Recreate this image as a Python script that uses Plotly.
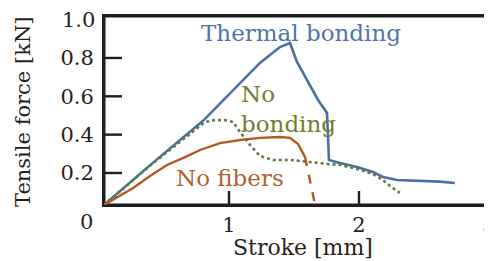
import plotly.graph_objects as go

# Thermal bonding (blue solid)
thermal_x = [0.038, 0.40, 0.80, 1.085, 1.238, 1.392, 1.469, 1.523, 1.60, 1.685, 1.754, 1.762, 1.769,
             1.854, 1.985, 2.108, 2.185, 2.292, 2.40, 2.523, 2.62, 2.738]
thermal_y = [0.033, 0.245, 0.472, 0.669, 0.774, 0.857, 0.878, 0.779, 0.685, 0.581, 0.513, 0.372, 0.268,
             0.252, 0.231, 0.205, 0.179, 0.163, 0.160, 0.158, 0.155, 0.148]

# No bonding (green dotted)
nobond_x = [0.038, 0.40, 0.815, 0.892, 0.969, 1.031, 1.085, 1.162, 1.238, 1.338, 1.469, 1.60, 1.762,
            1.854, 1.985, 2.108, 2.185, 2.238, 2.315]
nobond_y = [0.033, 0.243, 0.466, 0.476, 0.476, 0.466, 0.414, 0.346, 0.289, 0.268, 0.268, 0.257, 0.247,
            0.242, 0.221, 0.195, 0.163, 0.132, 0.096]

# No fibers (orange solid, then dashed tail)
nofib_x = [0.038, 0.162, 0.262, 0.392, 0.523, 0.662, 0.777, 0.931, 1.085, 1.238, 1.392, 1.469, 1.531, 1.585]
nofib_y = [0.033, 0.080, 0.122, 0.184, 0.242, 0.283, 0.320, 0.356, 0.372, 0.383, 0.388, 0.383, 0.351, 0.283]
nofib_tail_x = [1.585, 1.623, 1.662]
nofib_tail_y = [0.283, 0.163, 0.033]

x_ticks = [1, 2, 3]
y_ticks = [0.2, 0.4, 0.6, 0.8]

FONT = "DejaVu Serif"
BLUE = "#4b6fa6"
GREEN = "#5e7a48"
ORANGE = "#b3591f"
INK = "#2a1e18"
AX = "#1e1e1e"

XR = [0.038, 3.008]
YR = [0.033, 1.019]

# page has an 8px body margin: figure occupies page x 8..492, y 8..261
W, H = 484, 253
ML, MR, MT, MB = 96, 2, 8, 56
PW = W - ML - MR
PH = H - MT - MB


def px2x(px):
    return (px - 99) / 130.0


def px2y(py):
    return (205 - py) / 191.7 + 0.033


def page2paper_x(px):
    return (px - 8 - ML) / PW


def page2paper_y(py):
    return 1 - (py - 8 - MT) / PH


fig = go.Figure()

# plot frame and inside tick marks, derived from the axis ranges and tick lists
frame_x = [XR[0], XR[1], XR[1], XR[0], XR[0]]
frame_y = [YR[0], YR[0], YR[1], YR[1], YR[0]]
fig.add_trace(go.Scatter(x=frame_x, y=frame_y, mode="lines",
                         line=dict(color=AX, width=3), showlegend=False, hoverinfo="skip"))
dy_tick = 14 * (YR[1] - YR[0]) / PH
dx_tick = 18 * (XR[1] - XR[0]) / PW
tx, ty = [], []
for t in x_ticks[:-1]:
    tx += [t, t, None]
    ty += [YR[0], YR[0] + dy_tick, None]
for t in y_ticks:
    tx += [XR[0], XR[0] + dx_tick, None]
    ty += [t, t, None]
fig.add_trace(go.Scatter(x=tx, y=ty, mode="lines",
                         line=dict(color=AX, width=2.4), showlegend=False, hoverinfo="skip"))

fig.add_trace(go.Scatter(x=thermal_x, y=thermal_y, mode="lines",
                         line=dict(color=BLUE, width=2.6), showlegend=False))
fig.add_trace(go.Scatter(x=nobond_x, y=nobond_y, mode="lines",
                         line=dict(color=GREEN, width=2.6, dash="dot"), showlegend=False))
fig.add_trace(go.Scatter(x=nofib_x, y=nofib_y, mode="lines",
                         line=dict(color=ORANGE, width=2.4), showlegend=False))
fig.add_trace(go.Scatter(x=nofib_tail_x, y=nofib_tail_y, mode="lines",
                         line=dict(color=ORANGE, width=2.4, dash="dash"), showlegend=False))

fig.update_layout(
    width=W, height=H,
    margin=dict(l=ML, r=MR, t=MT, b=MB, autoexpand=False),
    paper_bgcolor="white", plot_bgcolor="white",
    font=dict(family=FONT, size=21, color=INK),
    xaxis=dict(range=XR, tickvals=x_ticks, ticks="", showline=True, linecolor=AX, linewidth=2,
               mirror=True, showgrid=False, zeroline=False, automargin=False,
               ticklabeloverflow="allow", tickfont=dict(size=21, color=INK)),
    yaxis=dict(range=YR, tickvals=y_ticks, ticks="", showline=True, linecolor=AX, linewidth=2,
               mirror=True, ticklabelstandoff=4, showgrid=False, zeroline=False,
               automargin=False, tickfont=dict(size=21, color=INK)),
    annotations=[
        dict(x=page2paper_x(86), y=page2paper_y(222), xref="paper", yref="paper", text="0",
             xanchor="center", yanchor="middle", showarrow=False, font=dict(size=21, color=INK)),
        dict(x=0, y=1.0, xref="paper", yref="y", text="1.0", showarrow=False,
             xanchor="right", yanchor="middle", xshift=-7, font=dict(size=21, color=INK)),
        dict(x=page2paper_x(303), y=page2paper_y(247), xref="paper", yref="paper",
             text="Stroke [mm]", showarrow=False, xanchor="center", yanchor="middle",
             font=dict(size=22, color=INK)),
        dict(x=page2paper_x(23), y=page2paper_y(112), xref="paper", yref="paper",
             text="Tensile force [kN]", textangle=-90, showarrow=False,
             xanchor="center", yanchor="middle", font=dict(size=21, color=INK)),
        dict(x=px2x(301), y=px2y(33), xref="x", yref="y", text="Thermal bonding", showarrow=False,
             font=dict(size=23, color="#5272ab")),
        dict(x=px2x(239), y=px2y(94), xref="x", yref="y", text="No", showarrow=False, xanchor="left",
             font=dict(size=23, color="#717d2c")),
        dict(x=px2x(239), y=px2y(124), xref="x", yref="y", text="bonding", showarrow=False,
             xanchor="left", font=dict(size=23, color="#717d2c")),
        dict(x=px2x(230), y=px2y(178), xref="x", yref="y", text="No fibers", showarrow=False,
             font=dict(size=23, color="#b0612c")),
    ],
)

fig.write_html("out.html")
